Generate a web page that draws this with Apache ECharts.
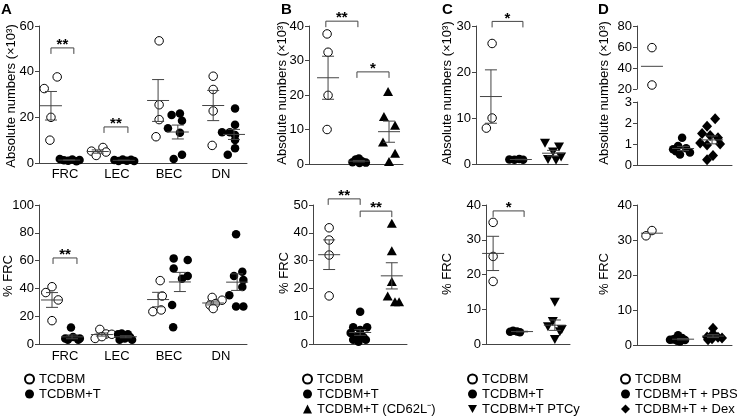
<!DOCTYPE html>
<html>
<head>
<meta charset="utf-8">
<script src="https://cdn.jsdelivr.net/npm/echarts@6/dist/echarts.min.js"></script>
<style>
  html, body { margin: 0; padding: 0; background: #fff; }
  #chart { width: 739px; height: 418px; }
</style>
</head>
<body>
<div id="chart"></div>
<script>
// values; each point is [x jitter inside its group, value]
const cellTypes = ['FRC', 'LEC', 'BEC', 'DN'];

// A, absolute numbers (x10^3)
const aTopFrcOpen = [[-0.13, 32.6], [0.12, 37.7], [0, 20], [-0.02, 10]];
const aTopFrcFill = [[-0.18, 1.8], [-0.1, 1.2], [-0.02, 1.0], [0.06, 1.5], [0.14, 0.8], [0.2, 1.3]];
const aTopLecOpen = [[-0.12, 5.2], [-0.03, 3.3], [0.1, 6.8], [0.16, 4.8]];
const aTopLecFill = [[-0.18, 1.3], [-0.1, 0.9], [-0.02, 1.5], [0.06, 1.0], [0.14, 1.4], [0.2, 0.9]];
const aTopBecOpen = [[0.02, 53.5], [0.02, 25.5], [0.02, 19], [-0.04, 11.5]];
const aTopBecFill = [[0.04, 21.7], [-0.12, 21], [0.08, 18.5], [-0.19, 15.2], [0.04, 13.3], [0.08, 3.6], [-0.08, 1.7]];
const aTopDnOpen = [[0, 38], [0, 32.2], [0, 22.8], [-0.02, 7.7]];
const aTopDnFill = [[0.02, 23.9], [0.02, 16.7], [-0.23, 13.5], [-0.08, 13.5], [0.02, 12.3], [0.02, 10.1], [0.02, 6.5], [-0.12, 3.6]];

// A, % FRC
const aBotFrcOpen = [[-0.12, 37], [0, 41.2], [0.12, 31.7], [0, 16.8]];
const aBotFrcFill = [[-0.02, 11.8], [-0.13, 4], [-0.08, 3], [0.02, 5], [0.12, 3], [0.15, 4]];
const aBotLecOpen = [[-0.04, 10.5], [-0.13, 4], [0.08, 7.2], [0, 5.3], [0.19, 7]];
const aBotLecFill = [[-0.15, 7], [-0.08, 7.5], [0.04, 7], [-0.02, 4], [-0.12, 3], [0.12, 3], [0.08, 5]];
const aBotBecOpen = [[0.04, 45.6], [0.08, 34.5], [-0.1, 23.3], [0.06, 24.5]];
const aBotBecFill = [[-0.12, 61.6], [0.15, 60.4], [-0.12, 54.4], [0.04, 47], [0.15, 49], [-0.15, 28], [-0.13, 12]];
const aBotDnOpen = [[-0.02, 33.5], [0.17, 31.5], [-0.06, 28], [0.04, 29], [0, 25.5]];
const aBotDnFill = [[-0.02, 79], [0.1, 52], [-0.06, 49], [0.12, 46], [-0.15, 35], [0.1, 41], [-0.02, 27], [0.12, 27]];

// B
const bTopOpen = [[-0.03, 37.7], [0, 32.4], [0, 19.9], [-0.03, 10]];
const bTopFill = [[-0.2, 0.5], [-0.1, 1.3], [0, 1.6], [0.1, 0.8], [0.22, 0.4], [0.02, 0.3]];
const bTopTri = [[-0.03, 21], [-0.16, 13.8], [0.19, 11.2], [-0.19, 6.4], [0.19, 3.1], [0, 0.7]];
const bBotOpen = [[0, 41.8], [0, 37.4], [0, 32], [0, 17.3]];
const bBotFill = [[0, 11.6], [-0.22, 6], [0.22, 6], [0, 5], [-0.3, 4], [-0.1, 2.5], [0.1, 2.5], [-0.22, 1.5], [0.18, 1.5], [-0.05, 0.8]];
const bBotTri = [[0, 43.4], [0, 33.5], [0, 22.5], [-0.13, 17.3], [0.1, 15.2], [0.23, 15.2]];

// C
const cTopOpen = [[0.05, 26.2], [0.05, 10], [-0.2, 7.8]];
const cTopFill = [[-0.5, 1.0], [-0.28, 0.9], [-0.07, 1.1], [0.1, 0.9]];
const cTopInv = [[-0.35, 4.5], [0.26, 3.7], [0, 2.6], [-0.22, 1.0], [0.13, 0.8], [0.35, 1.5]];
const cBotOpen = [[0, 35], [0, 25.2], [0, 18]];
const cBotFill = [[-0.52, 3.5], [-0.39, 3.8], [-0.22, 3.6], [-0.09, 3.4]];
const cBotInv = [[0, 12], [-0.09, 6.5], [-0.3, 5], [0.3, 4.2], [0.22, 3.5], [0, 1.3]];

// D
const dTopOpen = [[0, 59.4], [0, 23.8]];
const dTopFill = [[-0.04, 1.3], [-0.42, 0.75], [-0.21, 0.9], [0.13, 0.8], [0.29, 0.6], [-0.13, 0.5], [-0.3, 0.65]];
const dTopDia = [[0.13, 2.2], [-0.21, 1.85], [-0.42, 1.5], [-0.08, 1.4], [0.25, 1.3], [-0.5, 1.05], [0.34, 1.0], [-0.21, 0.95], [0.04, 0.45], [-0.21, 0.25]];
const dBotOpen = [[-0.25, 31.2], [0, 32.7]];
const dBotFill = [[-0.21, 2.8], [-0.42, 1.6], [-0.04, 2.0], [-0.25, 1.2], [0.08, 1.4], [-0.55, 1.5], [-0.13, 1.0], [-0.34, 1.8]];
const dBotDia = [[0, 4.8], [0, 3.2], [-0.25, 2.3], [0.21, 2.2], [-0.04, 1.8], [0.38, 2.0], [-0.21, 1.5]];

// y axis ranges [min, max, step] per plot
const yRanges = [[0, 60, 20], [0, 100, 20], [0, 40, 10], [0, 50, 10], [0, 30, 10], [0, 40, 10], [20, 80, 20], [0, 3, 1], [0, 40, 10]];

// significance brackets [from x, to x, value, label]
const aTopSig = [[0.23, 0.67, 50.4, '**'], [1.25, 1.71, 15.8, '**']];
const aBotSig = [[0.27, 0.73, 61.9, '**']];
const bTopSig = [[1.07, 2.08, 41.4, '**'], [2.05, 3.06, 26.7, '*']];
const bBotSig = [[1.14, 2.15, 52.2, '**'], [2.15, 3.15, 47.8, '**']];
const cTopSig = [[0.7, 2.04, 31, '*']];
const cBotSig = [[0.74, 2.09, 38.3, '*']];

const FONT = '"Liberation Sans", Arial, sans-serif';
const INK = '#000';
const GREY = '#444';

// plot frames, one per axis pair
const grids = [
  { left: 39, top: 26, width: 208, height: 137 },
  { left: 39, top: 205, width: 208, height: 139 },
  { left: 309, top: 26, width: 94, height: 138 },
  { left: 313, top: 205, width: 94, height: 139 },
  { left: 476, top: 26, width: 92, height: 138 },
  { left: 486, top: 205, width: 84, height: 139 },
  { left: 637, top: 26, width: 95, height: 63 },
  { left: 637, top: 102, width: 95, height: 63 },
  { left: 637, top: 205, width: 95, height: 140 }
];
const xRanges = [[0, 4], [0, 4], [0.54, 3.5], [0.66, 3.63], [0, 4], [0.43, 4.09], [0, 4], [0, 4], [0, 4]];

const kinds = {
  open: { name: 'TCDBM', symbol: 'circle', size: 8.5, style: { color: '#fff', borderColor: INK, borderWidth: 1, opacity: 1 } },
  fill: { name: 'TCDBM+T', symbol: 'circle', size: 8.5, style: { color: INK, opacity: 1 } },
  tri: { name: 'TCDBM+T (CD62L⁻)', symbol: 'triangle', size: [10, 9], style: { color: INK, opacity: 1 } },
  inv: { name: 'TCDBM+T PTCy', symbol: 'path://M0,0L10,0L5,9Z', size: [10, 9], style: { color: INK, opacity: 1 } },
  pbs: { name: 'TCDBM+T + PBS', symbol: 'circle', size: 8.5, style: { color: INK, opacity: 1 } },
  dex: { name: 'TCDBM+T + Dex', symbol: 'diamond', size: [10, 11], style: { color: INK, opacity: 1 } }
};

// grid index, group centre on the x axis, points, marker kind, draw SEM
const groups = [
  [0, 0.23, aTopFrcOpen, 'open'], [0, 0.58, aTopFrcFill, 'fill'],
  [0, 1.13, aTopLecOpen, 'open'], [0, 1.63, aTopLecFill, 'fill'],
  [0, 2.29, aTopBecOpen, 'open'], [0, 2.67, aTopBecFill, 'fill'],
  [0, 3.35, aTopDnOpen, 'open'], [0, 3.75, aTopDnFill, 'fill'],
  [1, 0.25, aBotFrcOpen, 'open'], [1, 0.635, aBotFrcFill, 'fill'],
  [1, 1.21, aBotLecOpen, 'open'], [1, 1.67, aBotLecFill, 'fill'],
  [1, 2.29, aBotBecOpen, 'open'], [1, 2.71, aBotBecFill, 'fill'],
  [1, 3.35, aBotDnOpen, 'open'], [1, 3.81, aBotDnFill, 'fill'],
  [2, 1.14, bTopOpen, 'open'], [2, 2.11, bTopFill, 'fill'], [2, 3.06, bTopTri, 'tri'],
  [3, 1.17, bBotOpen, 'open'], [3, 2.15, bBotFill, 'fill'], [3, 3.15, bBotTri, 'tri'],
  [4, 0.65, cTopOpen, 'open'], [4, 1.95, cTopFill, 'fill'], [4, 3.35, cTopInv, 'inv'],
  [5, 0.74, cBotOpen, 'open'], [5, 2.0, cBotFill, 'fill'], [5, 3.43, cBotInv, 'inv'],
  [6, 0.63, dTopOpen, 'open', false], [7, 1.94, dTopFill, 'pbs'], [7, 3.16, dTopDia, 'dex'],
  [8, 0.63, dBotOpen, 'open', false], [8, 1.94, dBotFill, 'pbs'], [8, 3.2, dBotDia, 'dex']
];
const brackets = [[0, aTopSig], [1, aBotSig], [2, bTopSig], [3, bBotSig], [4, cTopSig], [5, cBotSig]];

function stats(points) {
  const v = points.map(p => p[1]);
  const n = v.length;
  const mean = v.reduce((s, x) => s + x, 0) / n;
  const sd = Math.sqrt(v.reduce((s, x) => s + (x - mean) * (x - mean), 0) / (n - 1));
  return [mean, sd / Math.sqrt(n)];
}

function renderMean(params, api) {
  const x = api.value(0), m = api.value(1), s = api.value(2);
  const c = api.coord([x, m]);
  const st = { stroke: GREY, lineWidth: 1 };
  const kids = [{ type: 'line', shape: { x1: c[0] - 11, y1: c[1], x2: c[0] + 11, y2: c[1] }, style: st }];
  if (s > 0) {
    const hi = api.coord([x, m + s])[1];
    const lo = api.coord([x, m - s])[1];
    kids.push({ type: 'line', shape: { x1: c[0], y1: hi, x2: c[0], y2: lo }, style: st });
    kids.push({ type: 'line', shape: { x1: c[0] - 6, y1: hi, x2: c[0] + 6, y2: hi }, style: st });
    kids.push({ type: 'line', shape: { x1: c[0] - 6, y1: lo, x2: c[0] + 6, y2: lo }, style: st });
  }
  return { type: 'group', children: kids };
}

function bracketRenderer(list) {
  return function (params, api) {
    const a = api.coord([api.value(0), api.value(2)]);
    const b = api.coord([api.value(1), api.value(2)]);
    return {
      type: 'group',
      children: [
        { type: 'polyline', shape: { points: [[a[0], a[1] + 6], [a[0], a[1]], [b[0], b[1]], [b[0], b[1] + 6]] },
          style: { stroke: GREY, fill: null, lineWidth: 1 } },
        { type: 'text', x: (a[0] + b[0]) / 2, y: a[1] - 3,
          style: { text: list[params.dataIndex][3], align: 'center', verticalAlign: 'middle', font: 'bold 15px ' + FONT, fill: INK } }
      ]
    };
  };
}

const xAxis = grids.map((g, i) => ({
  type: 'value', gridIndex: i, min: xRanges[i][0], max: xRanges[i][1], position: 'bottom',
  axisLine: { show: i > 1 && i !== 6, onZero: false, lineStyle: { color: GREY, width: 1 } },
  axisTick: { show: false }, axisLabel: { show: false }, splitLine: { show: false }
}));
[0, 1].forEach((gi, k) => xAxis.push({
  type: 'category', gridIndex: gi, data: cellTypes, boundaryGap: true, position: 'bottom',
  axisLine: { onZero: false, lineStyle: { color: GREY, width: 1 } }, axisTick: { show: false },
  axisLabel: { color: INK, fontSize: 13, fontFamily: FONT, margin: k === 0 ? 5 : 6 }
}));

const yAxis = grids.map((g, i) => ({
  type: 'value', gridIndex: i, min: yRanges[i][0], max: yRanges[i][1], interval: yRanges[i][2],
  axisLine: { show: true, lineStyle: { color: GREY, width: 1 } },
  axisTick: { show: true, length: 4, lineStyle: { color: GREY } },
  axisLabel: { color: INK, fontSize: 13, fontFamily: FONT, margin: 5 },
  splitLine: { show: false }
}));

const series = [];
groups.forEach(([gi, cx, pts, kind, withSem]) => {
  const k = kinds[kind];
  series.push({
    type: 'scatter', name: k.name, xAxisIndex: gi, yAxisIndex: gi,
    symbol: k.symbol, symbolSize: k.size, itemStyle: k.style, z: 2,
    data: pts.map(p => [cx + p[0], p[1]])
  });
  const [m, sem] = stats(pts);
  series.push({
    type: 'custom', name: 'mean', xAxisIndex: gi, yAxisIndex: gi, z: 3, clip: false,
    renderItem: renderMean, data: [[cx, m, withSem === false ? 0 : sem]]
  });
});
brackets.forEach(([gi, list]) => {
  series.push({
    type: 'custom', name: 'sig', xAxisIndex: gi, yAxisIndex: gi, z: 4, clip: false,
    renderItem: bracketRenderer(list), data: list.map(b => [b[0], b[1], b[2]])
  });
});

const legendBase = {
  orient: 'vertical', top: 372, itemWidth: 9, itemHeight: 9, itemGap: 1, padding: 0,
  selectedMode: false, textStyle: { color: INK, fontSize: 13, fontFamily: FONT, lineHeight: 14 }
};

function yTitle(x, y, text) {
  return { type: 'text', x: x, y: y, rotation: Math.PI / 2,
    style: { text: text, align: 'center', verticalAlign: 'middle', font: '13px ' + FONT, fill: INK } };
}
function letter(x, text) {
  return { type: 'text', x: x, y: 2, style: { text: text, font: 'bold 15px ' + FONT, fill: '#000' } };
}

const chart = echarts.init(document.getElementById('chart'));
chart.setOption({
  animation: false,
  backgroundColor: '#fff',
  grid: grids,
  xAxis: xAxis,
  yAxis: yAxis,
  legend: [
    Object.assign({}, legendBase, { left: 24, data: ['TCDBM', 'TCDBM+T'] }),
    Object.assign({}, legendBase, { left: 302, data: ['TCDBM', 'TCDBM+T', 'TCDBM+T (CD62L⁻)'] }),
    Object.assign({}, legendBase, { left: 467, data: ['TCDBM', 'TCDBM+T', 'TCDBM+T PTCy'] }),
    Object.assign({}, legendBase, { left: 620, data: ['TCDBM', 'TCDBM+T + PBS', 'TCDBM+T + Dex'] })
  ],
  graphic: [
    letter(1, 'A'), letter(281, 'B'), letter(442, 'C'), letter(598, 'D'),
    yTitle(11, 96, 'Absolute numbers (×10³)'),
    yTitle(282, 93, 'Absolute numbers (×10³)'),
    yTitle(447, 93, 'Absolute numbers (×10³)'),
    yTitle(604, 93, 'Absolute numbers (×10³)'),
    yTitle(8, 276, '% FRC'), yTitle(284, 273, '% FRC'),
    yTitle(447, 274, '% FRC'), yTitle(604, 274, '% FRC')
  ],
  series: series
});
</script>
</body>
</html>
